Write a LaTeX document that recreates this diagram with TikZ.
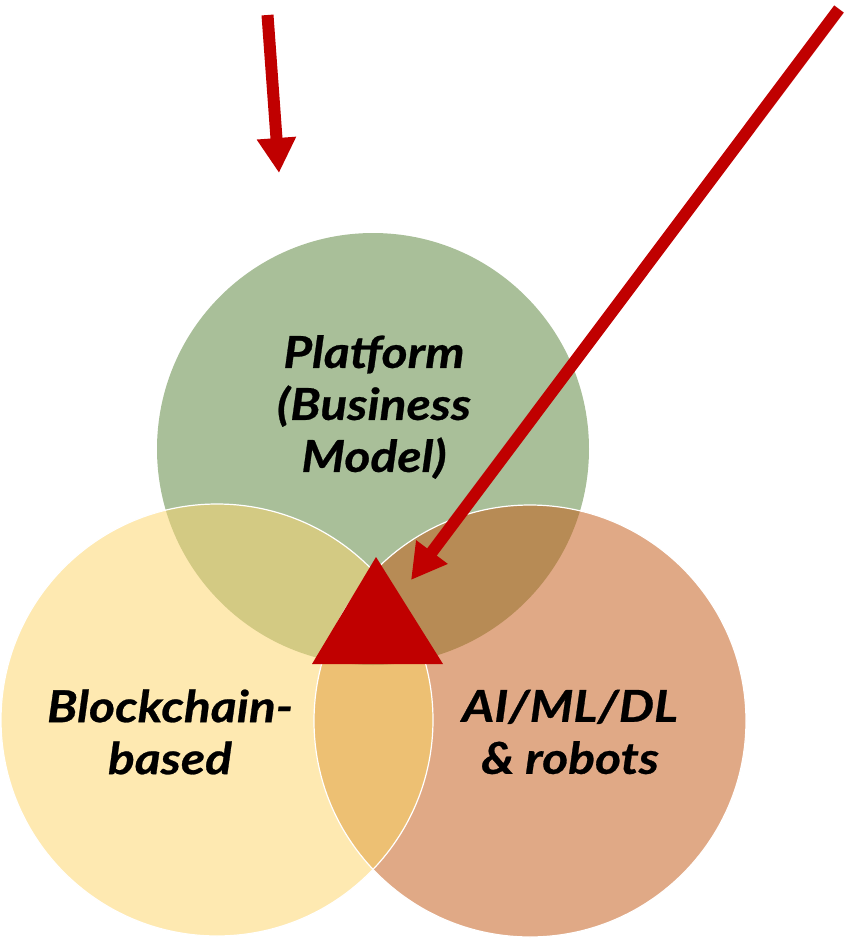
\documentclass[tikz,border=0pt]{standalone}
\usepackage{fontspec}
\setmainfont{Lato}
\newfontfamily\lblfont[FakeStretch=1.13,FakeBold=0.6]{Lato}
\usetikzlibrary{arrows.meta}
\definecolor{cgreen}{HTML}{A9BF99}
\definecolor{cyellow}{HTML}{FEE9B1}
\definecolor{corange}{HTML}{E0A986}
\definecolor{cgy}{HTML}{D3CA83}
\definecolor{cgo}{HTML}{B78B55}
\definecolor{cyo}{HTML}{EDC073}
\definecolor{cgyo}{HTML}{C9A85E}
\definecolor{cred}{HTML}{C00000}
\tikzset{
  lbl/.style={align=center,font=\lblfont\fontsize{44}{52}\selectfont\bfseries\itshape,text=black,inner sep=0pt},
  bigarrow/.style={draw=cred,line width=12pt,-{Triangle[length=35pt,width=37pt]}},
  rim/.style={draw=white,line width=1.2pt}
}
\begin{document}
\begin{tikzpicture}[x=1pt,y=-1pt]
\useasboundingbox (0,0) rectangle (846,943);
\coordinate (cA) at (373,449);
\coordinate (cB) at (217,720);
\coordinate (cC) at (530,721);
\def\R{216}
% base circles
\fill[cgreen] (cA) circle (\R);
\fill[cyellow] (cB) circle (\R);
\fill[corange] (cC) circle (\R);
% pairwise overlaps
\begin{scope}
  \clip (cA) circle (\R);
  \fill[cgy] (cB) circle (\R);
  \fill[cgo] (cC) circle (\R);
\end{scope}
\begin{scope}
  \clip (cB) circle (\R);
  \fill[cyo] (cC) circle (\R);
  \clip (cC) circle (\R);
  \fill[cgyo] (cA) circle (\R);
\end{scope}
% white rims
\draw[rim] (cC) circle (\R);
\draw[rim] (cB) circle (\R);
% labels
\node[lbl] (top) at (374,407) {Platform\\(Business\\Model)};
\node[lbl] (left) at (170,732) {Blockchain-\\based};
\node[lbl] (right) at (570,732) {AI/ML/DL\\\& robots};
% triangle
\fill[cred] (376,557) -- (312,664) -- (443,664) -- cycle;
% arrows
\coordinate (a1s) at (267.5,15);
\coordinate (a1e) at (279,173);
\coordinate (a2s) at (839,9);
\coordinate (a2e) at (411,580);
\draw[bigarrow] (a1s) -- (a1e);
\draw[bigarrow] (a2s) -- (a2e);
\end{tikzpicture}
\end{document}
